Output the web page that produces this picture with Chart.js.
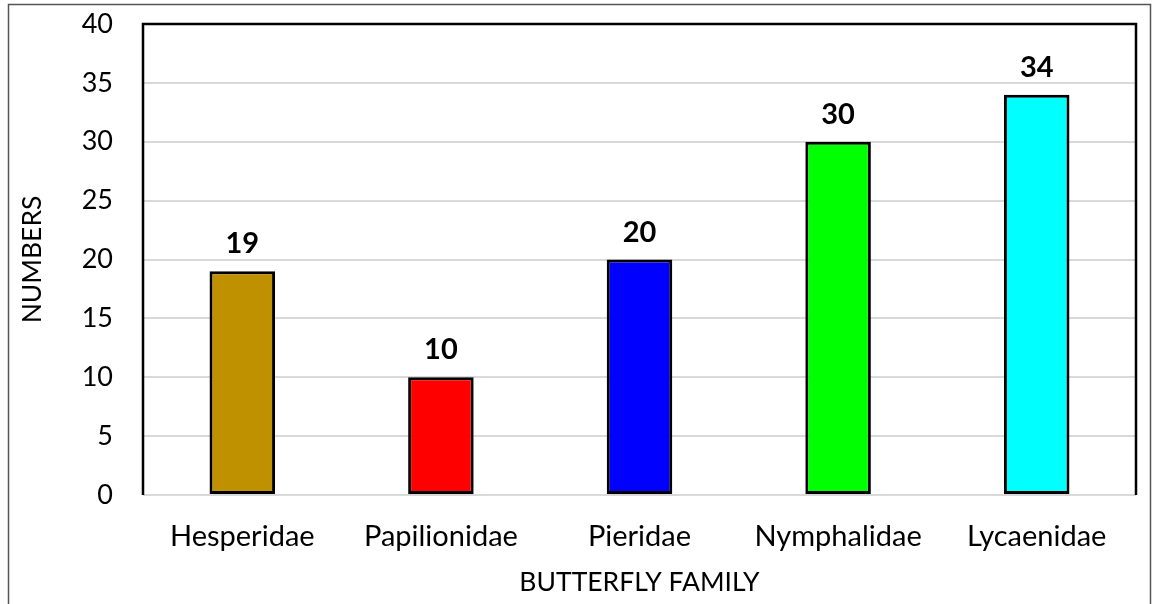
<!DOCTYPE html>
<html>
<head>
<meta charset="utf-8">
<script src="https://cdn.jsdelivr.net/npm/chart.js@4"></script>
<style>
  html, body { margin: 0; padding: 0; background: #fff; }
  #wrap { width: 1156px; height: 604px; }
</style>
</head>
<body>
<div id="wrap"><canvas id="butterflyChart" width="1156" height="604"></canvas></div>
<script>
// butterfly family counts
const families = ["Hesperidae", "Papilionidae", "Pieridae", "Nymphalidae", "Lycaenidae"];
const counts = [19, 10, 20, 30, 34];
const barColors = ["#bf9000", "#ff0000", "#0000ff", "#00ff00", "#00ffff"];
const yTicks = [0, 5, 10, 15, 20, 25, 30, 35, 40];

const FONT = "Lato, 'Open Sans', sans-serif";

// value labels above bars
const valueLabels = {
  id: "valueLabels",
  afterDatasetsDraw(chart) {
    const ctx = chart.ctx;
    const meta = chart.getDatasetMeta(0);
    ctx.save();
    ctx.font = "bold 29px " + FONT;
    ctx.fillStyle = "#000";
    ctx.textAlign = "center";
    ctx.textBaseline = "alphabetic";
    meta.data.forEach((bar, i) => {
      ctx.fillText(counts[i], bar.x, bar.y - 18);
    });
    ctx.restore();
  }
};

// black frame on top/left/right of plot + grey outer border
const frame = {
  id: "frame",
  afterDraw(chart) {
    const ctx = chart.ctx;
    const a = chart.chartArea;
    ctx.save();
    ctx.strokeStyle = "#000";
    ctx.lineWidth = 2.5;
    ctx.beginPath();
    ctx.moveTo(a.left, a.bottom);
    ctx.lineTo(a.left, a.top);
    ctx.lineTo(a.right, a.top);
    ctx.lineTo(a.right, a.bottom);
    ctx.stroke();
    ctx.strokeStyle = "#555";
    ctx.lineWidth = 1.5;
    ctx.beginPath();
    ctx.moveTo(8.5, 604);
    ctx.lineTo(8.5, 4.5);
    ctx.lineTo(1150.5, 4.5);
    ctx.lineTo(1150.5, 604);
    ctx.stroke();
    ctx.restore();
  }
};

const ctx = document.getElementById("butterflyChart").getContext("2d");
const chart = new Chart(ctx, {
  type: "bar",
  data: {
    labels: families,
    datasets: [{
      data: counts,
      backgroundColor: barColors,
      borderColor: "#000",
      borderWidth: 3,
      borderSkipped: false,
      categoryPercentage: 0.33,
      barPercentage: 1.0
    }]
  },
  options: {
    responsive: false,
    animation: false,
    layout: { padding: { left: 0, top: 24, right: 20, bottom: 0 } },
    plugins: {
      legend: { display: false },
      tooltip: { enabled: false }
    },
    scales: {
      x: {
        grid: { display: false, drawTicks: false },
        border: { display: false },
        ticks: { color: "#000", font: { family: FONT, size: 29 }, padding: 24 },
        title: {
          display: true,
          text: "BUTTERFLY FAMILY",
          color: "#000",
          font: { family: FONT, size: 26.5 },
          padding: { top: 0, bottom: 6 }
        },
        afterFit(scale) {
          scale.height = 109;
          scale.paddingLeft = 0;
          scale.paddingRight = 0;
        }
      },
      y: {
        min: 0,
        max: 40,
        afterBuildTicks(scale) { scale.ticks = yTicks.map(v => ({ value: v })); },
        grid: { color: "#d9d9d9", lineWidth: 2, drawTicks: false },
        border: { display: false },
        ticks: { color: "#000", font: { family: FONT, size: 27 }, padding: 30 },
        title: {
          display: true,
          text: "NUMBERS",
          color: "#000",
          font: { family: FONT, size: 26.5 },
          padding: { top: 17, bottom: 0 }
        },
        afterFit(scale) {
          scale.width = 143;
          scale.paddingTop = 0;
          scale.paddingBottom = 0;
        }
      }
    }
  },
  plugins: [valueLabels, frame]
});
</script>
</body>
</html>
